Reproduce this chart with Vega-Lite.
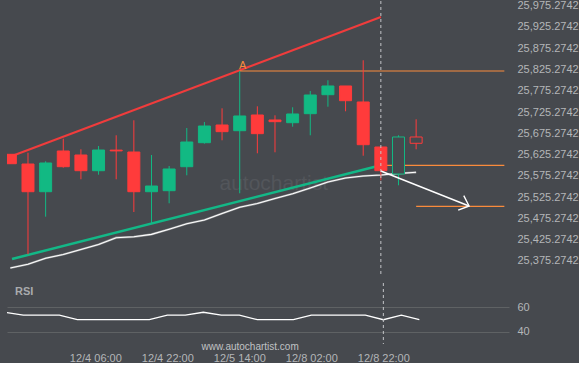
{
  "$schema": "https://vega.github.io/schema/vega-lite/v6.json",
  "background": "#46494e",
  "padding": {"left": 7, "top": -1, "right": 0, "bottom": 0},
  "config": {
    "view": {"stroke": null},
    "axis": {"labelColor": "#b4b6b8", "labelFont": "Liberation Sans", "labelFontSize": 11, "ticks": false, "tickSize": 0, "domain": false, "grid": false, "labelOverlap": false}
  },
  "spacing": 7,
  "bounds": "flush",
  "datasets": {
    "candles": [
      {"i": 0, "t": "12/3 10:00", "o": 25626.0, "h": 25626.0, "l": 25603.9, "c": 25603.9, "ma": 25358.8, "rsi": 56.0},
      {"i": 1, "t": "12/3 14:00", "o": 25603.2, "h": 25629.8, "l": 25391.0, "c": 25538.1, "ma": 25367.5, "rsi": 53.7},
      {"i": 2, "t": "12/3 18:00", "o": 25538.1, "h": 25609.6, "l": 25479.4, "c": 25605.6, "ma": 25381.6, "rsi": 53.7},
      {"i": 3, "t": "12/3 22:00", "o": 25633.8, "h": 25662.7, "l": 25594.5, "c": 25596.9, "ma": 25390.5, "rsi": 53.7},
      {"i": 4, "t": "12/4 02:00", "o": 25624.4, "h": 25637.8, "l": 25567.3, "c": 25587.5, "ma": 25402.3, "rsi": 49.9},
      {"i": 5, "t": "12/4 06:00", "o": 25587.5, "h": 25645.5, "l": 25578.1, "c": 25636.1, "ma": 25414.1, "rsi": 49.9},
      {"i": 6, "t": "12/4 10:00", "o": 25635.9, "h": 25670.7, "l": 25567.3, "c": 25634.0, "ma": 25430.0, "rsi": 49.9},
      {"i": 7, "t": "12/4 14:00", "o": 25631.4, "h": 25705.9, "l": 25490.4, "c": 25538.1, "ma": 25432.1, "rsi": 49.9},
      {"i": 8, "t": "12/4 18:00", "o": 25538.1, "h": 25624.4, "l": 25463.9, "c": 25551.5, "ma": 25437.8, "rsi": 49.9},
      {"i": 9, "t": "12/4 22:00", "o": 25540.5, "h": 25598.5, "l": 25510.9, "c": 25591.5, "ma": 25450.0, "rsi": 53.7},
      {"i": 10, "t": "12/5 02:00", "o": 25596.9, "h": 25687.8, "l": 25576.7, "c": 25654.9, "ma": 25462.7, "rsi": 53.7},
      {"i": 11, "t": "12/5 06:00", "o": 25653.3, "h": 25702.0, "l": 25651.0, "c": 25692.5, "ma": 25471.6, "rsi": 56.0},
      {"i": 12, "t": "12/5 10:00", "o": 25694.9, "h": 25734.1, "l": 25658.9, "c": 25679.2, "ma": 25486.9, "rsi": 53.7},
      {"i": 13, "t": "12/5 14:00", "o": 25681.5, "h": 25821.8, "l": 25534.4, "c": 25716.1, "ma": 25501.7, "rsi": 53.7},
      {"i": 14, "t": "12/5 18:00", "o": 25718.4, "h": 25738.8, "l": 25628.4, "c": 25674.5, "ma": 25510.4, "rsi": 49.9},
      {"i": 15, "t": "12/5 20:00", "o": 25706.7, "h": 25717.7, "l": 25630.7, "c": 25702.7, "ma": 25522.2, "rsi": 49.9},
      {"i": 16, "t": "12/7 22:00", "o": 25700.3, "h": 25736.5, "l": 25690.9, "c": 25720.8, "ma": 25533.4, "rsi": 49.9},
      {"i": 17, "t": "12/8 02:00", "o": 25721.5, "h": 25774.8, "l": 25670.7, "c": 25765.4, "ma": 25546.8, "rsi": 53.7},
      {"i": 18, "t": "12/8 06:00", "o": 25766.1, "h": 25800.0, "l": 25737.9, "c": 25786.6, "ma": 25560.9, "rsi": 53.7},
      {"i": 19, "t": "12/8 10:00", "o": 25786.6, "h": 25786.6, "l": 25727.1, "c": 25752.0, "ma": 25570.3, "rsi": 53.7},
      {"i": 20, "t": "12/8 14:00", "o": 25749.0, "h": 25847.0, "l": 25622.7, "c": 25648.6, "ma": 25575.0, "rsi": 53.7},
      {"i": 21, "t": "12/8 22:00", "o": 25643.2, "h": 25643.2, "l": 25564.9, "c": 25587.5, "ma": 25577.4, "rsi": 49.9},
      {"i": 22, "t": "12/9 02:00", "o": 25579.7, "h": 25670.7, "l": 25553.2, "c": 25666.7, "ma": 25580.9, "rsi": 53.7},
      {"i": 23, "t": "12/9 06:00", "o": 25666.7, "h": 25708.3, "l": 25637.8, "c": 25651.9, "ma": 25583.7, "rsi": 49.9}
    ],
    "upper": [{"i": 0.094, "p": 25622.0}, {"i": 21, "p": 25948.7}],
    "lower": [{"i": 0.094, "p": 25380.0}, {"i": 21, "p": 25600.2}],
    "levels": [{"i": 13, "i2": 28, "p": 25821.8}, {"i": 21, "i2": 28, "p": 25600.2}, {"i": 23, "i2": 28, "p": 25503.8}],
    "arrow": [{"i": 21, "p": 25586.8}, {"i": 26, "p": 25504.5}],
    "head": [{"i": 26, "p": 25504.5}],
    "labelA": [{"i": 13, "p": 25821.8, "txt": "A"}],
    "mark": [{"i": 14.93, "p": 25556.2, "txt": "autochartist"}]
  },
  "vconcat": [
    {
      "width": 502,
      "height": 275,
      "encoding": {
        "x": {"field": "i", "type": "quantitative", "scale": {"domain": [0.094, 27.98], "nice": false, "zero": false}, "axis": null}
      },
      "layer": [
        {
          "data": {"name": "mark"},
          "mark": {"type": "text", "fontSize": 21, "font": "Liberation Sans", "color": "#53565b"},
          "encoding": {
            "y": {"field": "p", "type": "quantitative", "title": null, "scale": {"domain": [25340.0, 25986.3], "nice": false, "zero": false},
              "axis": {"orient": "right", "labelPadding": 8, "format": ",.4f", "labelOverlap": false, "tickCount": 30,
                "values": [25375.2742, 25425.2742, 25475.2742, 25525.2742, 25575.2742, 25625.2742, 25675.2742, 25725.2742, 25775.2742, 25825.2742, 25875.2742, 25925.2742, 25975.2742]}},
            "text": {"field": "txt"}
          }
        },
        {
          "data": {"name": "upper"},
          "mark": {"type": "line", "color": "#f03c3c", "strokeWidth": 2.2, "clip": true},
          "encoding": {"y": {"field": "p", "type": "quantitative"}}
        },
        {
          "data": {"name": "lower"},
          "mark": {"type": "line", "color": "#13b887", "strokeWidth": 2.5, "clip": true},
          "encoding": {"y": {"field": "p", "type": "quantitative"}}
        },
        {
          "data": {"name": "candles"},
          "mark": {"type": "line", "color": "#8e9092", "strokeWidth": 2.2, "clip": true},
          "encoding": {"y": {"field": "ma", "type": "quantitative"}}
        },
        {
          "data": {"name": "candles"},
          "mark": {"type": "line", "color": "#ffffff", "strokeWidth": 1.1, "clip": true},
          "encoding": {"y": {"field": "ma", "type": "quantitative"}}
        },
        {
          "data": {"name": "levels"},
          "mark": {"type": "rule", "color": "#f98b3c", "strokeWidth": 1.2, "clip": true},
          "encoding": {"x2": {"field": "i2"}, "y": {"field": "p", "type": "quantitative"}}
        },
        {
          "data": {"name": "labelA"},
          "mark": {"type": "text", "color": "#f98b3c", "fontSize": 11, "font": "Liberation Sans", "baseline": "alphabetic", "dy": -2, "dx": 3},
          "encoding": {"y": {"field": "p", "type": "quantitative"}, "text": {"field": "txt"}}
        },
        {
          "data": {"name": "candles"},
          "mark": {"type": "rule", "strokeWidth": 1, "clip": true},
          "encoding": {
            "y": {"field": "l", "type": "quantitative"},
            "y2": {"field": "h"},
            "color": {"condition": {"test": "datum.c < datum.o", "value": "#ff3b3b"}, "value": "#12b983"}
          }
        },
        {
          "data": {"name": "candles"},
          "mark": {"type": "bar", "width": 12, "strokeWidth": 1, "clip": true},
          "encoding": {
            "y": {"field": "o", "type": "quantitative"},
            "y2": {"field": "c"},
            "fill": {"condition": [{"test": "datum.i > 21", "value": "#46494e"}, {"test": "datum.c < datum.o", "value": "#ff3b3b"}], "value": "#12b983"},
            "stroke": {"condition": {"test": "datum.c < datum.o", "value": "#ff3b3b"}, "value": "#12b983"}
          }
        },
        {
          "data": {"name": "arrow"},
          "mark": {"type": "line", "color": "#ffffff", "strokeWidth": 1.4, "clip": true},
          "encoding": {"y": {"field": "p", "type": "quantitative"}}
        },
        {
          "data": {"name": "head"},
          "mark": {"type": "point", "shape": "M-1,-0.9L0,0L-1,0.9", "filled": false, "stroke": "#ffffff", "strokeWidth": 1.4, "size": 300, "angle": 21, "opacity": 1},
          "encoding": {"y": {"field": "p", "type": "quantitative"}}
        },
        {
          "data": {"values": [{"i": 21}]},
          "mark": {"type": "rule", "color": "#c4c6c8", "strokeDash": [3, 3], "strokeWidth": 1},
          "encoding": {}
        }
      ]
    },
    {
      "width": 502,
      "height": 61,
      "encoding": {
        "x": {"field": "i", "type": "quantitative", "title": null, "scale": {"domain": [0.094, 27.98], "nice": false, "zero": false},
          "axis": {"values": [5, 9, 13, 17, 21], "labelPadding": 8, "tickCount": 10,
            "labelExpr": "datum.value == 5 ? '12/4 06:00' : datum.value == 9 ? '12/4 22:00' : datum.value == 13 ? '12/5 14:00' : datum.value == 17 ? '12/8 02:00' : '12/8 22:00'"}}
      },
      "layer": [
        {
          "data": {"name": "candles"},
          "mark": {"type": "line", "color": "#ffffff", "strokeWidth": 1.3, "clip": true},
          "encoding": {
            "y": {"field": "rsi", "type": "quantitative", "title": null, "scale": {"domain": [30, 80], "nice": false, "zero": false},
              "axis": {"orient": "right", "values": [40, 60], "tickCount": 5, "grid": true, "gridColor": "#5f6264", "gridWidth": 1, "labelPadding": 8}}
          }
        },
        {
          "data": {"values": [{"i": 21}]},
          "mark": {"type": "rule", "color": "#c4c6c8", "strokeDash": [3, 3], "strokeWidth": 1},
          "encoding": {}
        },
        {
          "data": {"values": [{"i": 0.54, "v": 72.3, "txt": "RSI"}]},
          "mark": {"type": "text", "align": "left", "fontSize": 11, "fontWeight": "bold", "font": "Liberation Sans", "color": "#a9abad"},
          "encoding": {"y": {"field": "v", "type": "quantitative"}, "text": {"field": "txt"}}
        },
        {
          "data": {"values": [{"i": 13.6, "v": 27.9, "txt": "www.autochartist.com"}]},
          "mark": {"type": "text", "fontSize": 10, "font": "Liberation Sans", "color": "#c0c2c4", "limit": 0},
          "encoding": {"y": {"field": "v", "type": "quantitative"}, "text": {"field": "txt"}}
        }
      ]
    }
  ]
}
